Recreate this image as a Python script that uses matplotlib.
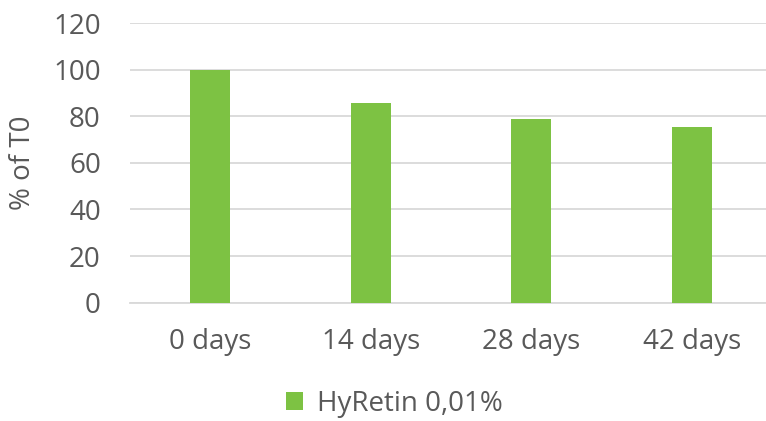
import matplotlib
matplotlib.use("Agg")
import matplotlib.pyplot as plt
from matplotlib.patches import Patch

categories = ["0 days", "14 days", "28 days", "42 days"]
values = [100, 85.7, 78.8, 75.4]
series_name = "HyRetin 0,01%"
y_ticks = [0, 20, 40, 60, 80, 100, 120]

green = "#7DC243"
text_col = "#595959"
grid_col = "#D9D9D9"

plt.rcParams["font.family"] = ["Open Sans", "DejaVu Sans"]

fig = plt.figure(figsize=(7.66, 4.21), dpi=100)
W, H = 766, 421
left, right, bottom, top = 130, 772, 302.7, 23
ax = fig.add_axes([left / W, 1 - bottom / H, (right - left) / W, (bottom - top) / H])

x = range(len(categories))
ax.bar(x, values, width=0.25, color=green, zorder=3)

ax.set_xlim(-0.5, len(categories) - 0.5)
ax.set_ylim(0, 120)
ax.set_yticks(y_ticks)
ax.set_xticks(list(x))
ax.set_xticklabels(categories)
ax.yaxis.grid(True, color=grid_col, linewidth=1.3, zorder=0)
ax.set_axisbelow(True)
for s in ["top", "right", "left"]:
    ax.spines[s].set_visible(False)
ax.spines["bottom"].set_color(grid_col)
ax.spines["bottom"].set_linewidth(1.3)
ax.tick_params(axis="both", length=0, labelsize=20, colors=text_col)
ax.tick_params(axis="y", pad=21)
ax.tick_params(axis="x", pad=18)
ax.set_ylabel("% of T0", fontsize=20, color=text_col, labelpad=12)

handle = Patch(facecolor=green, edgecolor="none")
fig.legend([handle], [series_name], loc="center", bbox_to_anchor=(0.515, 1 - 404 / H),
           frameon=False, fontsize=20, labelcolor=text_col, handlelength=0.6,
           handleheight=0.6, handletextpad=0.5, borderpad=0)

fig.savefig("out.png", dpi=100)
